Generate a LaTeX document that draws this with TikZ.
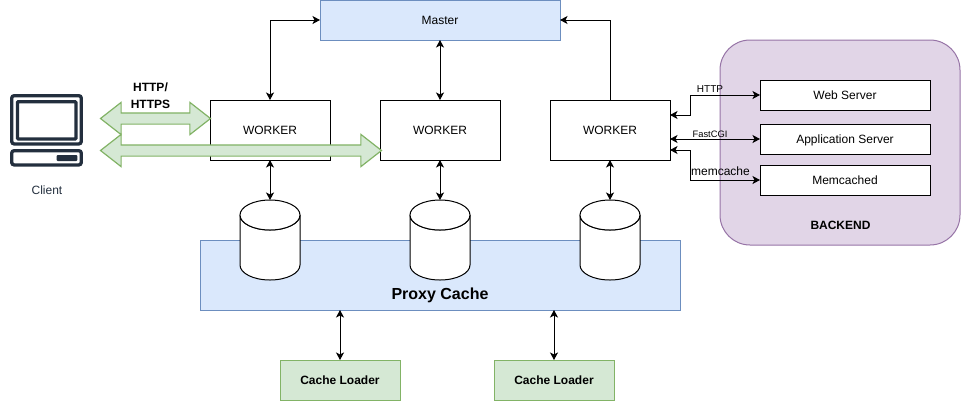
\documentclass[tikz,border=0pt]{standalone}
\usepackage{fontspec}
\setmainfont{Liberation Sans}
\usetikzlibrary{arrows.meta,shapes.arrows,calc}
\definecolor{gfill}{HTML}{D5E8D4}\definecolor{gline}{HTML}{82B366}
\definecolor{bfill}{HTML}{DAE8FC}\definecolor{bline}{HTML}{6C8EBF}
\definecolor{pfill}{HTML}{E1D5E7}\definecolor{pline}{HTML}{9673A6}
\definecolor{icon}{HTML}{232F3E}
\def\px{0.75pt}
\tikzset{
  base/.style={rectangle,outer sep=0pt,inner sep=0pt,line width=\px,align=center},
  boxtext/.style={font=\fontsize{9}{11}\selectfont,text height=7pt,text depth=0.5pt},
  worker/.style={base,boxtext,draw=black,fill=white,minimum width=120*\px,minimum height=60*\px},
  server/.style={base,boxtext,draw=black,fill=white,minimum width=170*\px,minimum height=30*\px},
  bluebox/.style={base,draw=bline,fill=bfill},
  loader/.style={base,boxtext,draw=gline,fill=gfill,minimum width=120*\px,minimum height=40*\px,font=\fontsize{9}{11}\selectfont\bfseries},
  cyl/.style={base,minimum width=60*\px,minimum height=80*\px},
  link/.style={line width=\px,draw=black,{Stealth[length=7.5*\px,width=8*\px,inset=2*\px]}-{Stealth[length=7.5*\px,width=8*\px,inset=2*\px]}},
  oneway/.style={line width=\px,draw=black,-{Stealth[length=7.5*\px,width=8*\px,inset=2*\px]}},
  greenarrow/.style={double arrow,draw=gline,fill=gfill,line width=1.2*\px,outer sep=0pt,inner sep=5*\px,
    minimum width=31*\px,double arrow head extend=10.5*\px,double arrow tip angle=76},
  txt/.style={inner sep=0pt,outer sep=0pt,align=center},
  cylline/.style={draw=black,fill=white,line width=\px},
  iconline/.style={draw=icon,line width=3.3*\px,rounded corners=2.5*\px}
}
\newcommand{\drawcyl}[1]{%
  \path[cylline] ($(#1.north west)+(0,15)$) -- ($(#1.south west)+(0,-15)$)
    arc[start angle=180,end angle=360,x radius=30,y radius=-15]
    -- ($(#1.north east)+(0,15)$)
    arc[start angle=0,end angle=-180,x radius=30,y radius=-15] -- cycle;
  \path[cylline] (#1.north) ++(0,15) ellipse[x radius=30,y radius=15];}
\begin{document}
\begin{tikzpicture}[x=0.75pt,y=-0.75pt]
\useasboundingbox (0,0) rectangle (961,401);
% backend
\node[base,draw=pline,fill=pfill,rounded corners=30*\px,minimum width=240*\px,minimum height=205*\px] (backend) at (840,142.5) {};
\node[txt,font=\fontsize{9}{11}\selectfont\bfseries] (backendlbl) at (840.5,225.5) {BACKEND};
\node[server] (web) at (845,95) {Web Server};
\node[server] (app) at (845,139) {Application Server};
\node[server] (mem) at (845,180) {Memcached};
% proxy
\node[bluebox,minimum width=480*\px,minimum height=70*\px] (proxy) at (440,275) {};
\node[txt,font=\fontsize{12}{14}\selectfont\bfseries] (proxylbl) at (440,295.5) {Proxy Cache};
% master + workers
\node[bluebox,boxtext,minimum width=240*\px,minimum height=40*\px] (master) at (440,20) {Master};
\node[worker] (w1) at (270,130) {WORKER};
\node[worker] (w2) at (440,130) {WORKER};
\node[worker] (w3) at (610,130) {WORKER};
% cylinders
\node[cyl] (c1) at (270,240) {};
\node[cyl] (c2) at (440,240) {};
\node[cyl] (c3) at (610,240) {};
\drawcyl{c1}\drawcyl{c2}\drawcyl{c3}
% loaders
\node[loader] (l1) at (340,380) {Cache Loader};
\node[loader] (l2) at (554,380) {Cache Loader};
% connectors
\draw[link] (w1.north) |- (master.west);
\draw[link] (master.south) -- (w2.north);
\draw[oneway] (w3.north) |- (master.east);
\draw[link] (w1.south) -- (c1.north);
\draw[link] (w2.south) -- (c2.north);
\draw[link] (w3.south) -- (c3.north);
\coordinate (p1) at (340,310);
\coordinate (p2) at (554,310);
\draw[link] (p1) -- (l1.north);
\draw[link] (p2) -- (l2.north);
\coordinate (w3a) at (670,115);
\coordinate (w3b) at (670,139);
\coordinate (w3c) at (670,150);
\draw[link] (w3a) -- ++(20,0) |- (web.west);
\draw[link] (w3b) -- (app.west);
\draw[link] (w3c) -- ++(20,0) |- (mem.west);
\node[txt,font=\fontsize{7.5}{9}\selectfont] (lhttp) at (710,89) {HTTP};
\node[txt,font=\fontsize{7}{9}\selectfont] (lcgi) at (710,134.5) {FastCGI};
\node[txt,font=\fontsize{9}{11}\selectfont] (lmem) at (720.5,171) {memcache};
% green arrows
\node[greenarrow,minimum height=110*\px] (g1) at (155.5,118.5) {};
\node[greenarrow,minimum height=281*\px] (g2) at (241,150.5) {};
\node[txt,font=\fontsize{9}{13}\selectfont\bfseries] (proto) at (150.5,95.5) {HTTP/\\HTTPS};
% client icon
\node[base,iconline,minimum width=69.6*\px,minimum height=48.3*\px] (screen) at (46.5,119.8) {};
\node[base,draw=icon,line width=3.3*\px,minimum width=58.6*\px,minimum height=37.3*\px,rounded corners=1*\px] (inner) at (46.7,120.3) {};
\node[base,iconline,minimum width=69.6*\px,minimum height=14.3*\px] (pcbase) at (46.5,157.8) {};
\node[base,fill=icon,rounded corners=1*\px,minimum width=20.6*\px,minimum height=6*\px] (slot) at (67,158) {};
\node[txt,text=icon,font=\fontsize{9}{11}\selectfont] (client) at (47,190) {Client};
\end{tikzpicture}
\end{document}
